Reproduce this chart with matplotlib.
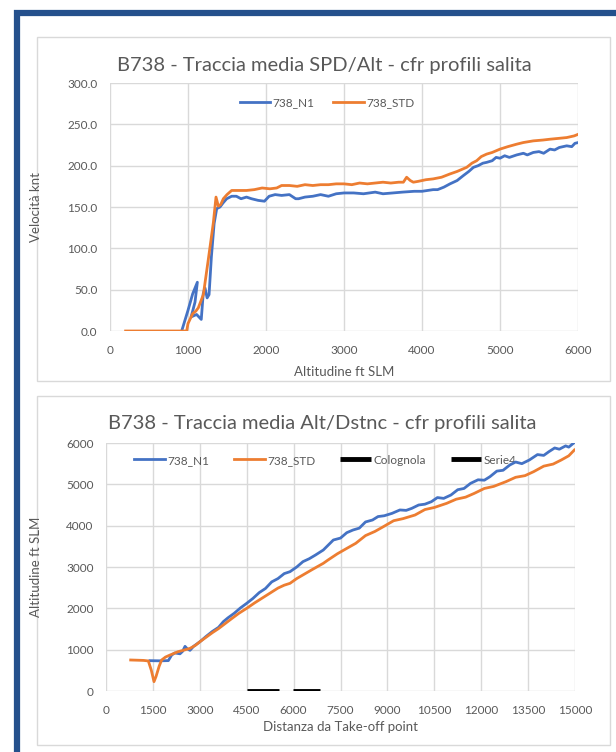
import matplotlib
matplotlib.use("Agg")
import matplotlib.pyplot as plt
from matplotlib.patches import Rectangle

plt.rcParams['font.family'] = ['Lato', 'DejaVu Sans']

# --- top chart: speed vs altitude ---
alt_n1 = [919, 1000, 1060, 1120, 1090, 1040, 1110, 1170, 1195, 1218, 1245, 1270, 1300, 1335, 1368,
          1410, 1450, 1496, 1560, 1620, 1680, 1750, 1814, 1900, 1980, 2040, 2117, 2200, 2300, 2380,
          2418, 2500, 2600, 2700, 2800, 2900, 3000, 3124, 3250, 3400, 3500, 3626, 3750, 3900, 4000,
          4143, 4200, 4280, 4359, 4450, 4530, 4600, 4660, 4720, 4780, 4829, 4900, 4950, 5000, 5060,
          5120, 5214, 5300, 5350, 5427, 5500, 5560, 5641, 5700, 5760, 5855, 5920, 5960, 6004]
spd_n1 = [0, 25, 45, 59, 35, 17, 20, 14, 45, 52, 40, 44, 90, 130, 148,
          150, 155, 160, 163, 163, 160, 162, 160, 158, 157, 163, 165, 164, 165, 160,
          160, 162, 163, 165, 163, 166, 167, 167, 166, 168, 166, 167, 168, 169, 169,
          171, 171, 174, 178, 182, 188, 193, 198, 200, 203, 204, 206, 210, 209, 212,
          210, 213, 215, 213, 216, 217, 215, 220, 219, 222, 224, 223, 227, 228]

alt_std = [200, 983, 1000, 1060, 1100, 1132, 1197, 1261, 1325, 1359, 1389, 1420, 1453, 1500, 1560,
           1650, 1750, 1850, 1950, 2050, 2137, 2200, 2300, 2400, 2500, 2600, 2700, 2800, 2900, 3000,
           3100, 3200, 3300, 3400, 3500, 3600, 3700, 3761, 3803, 3850, 3889, 3950, 4050, 4143, 4250,
           4359, 4450, 4573, 4640, 4701, 4760, 4829, 4900, 5000, 5100, 5214, 5300, 5427, 5550, 5641,
           5750, 5855, 5950, 6004]
spd_std = [0, 0, 9, 21, 24, 28, 44, 87, 131, 162, 151, 153, 160, 165, 170,
           170, 170, 171, 173, 172, 173, 176, 176, 175, 177, 176, 177, 177, 178, 178,
           177, 179, 178, 179, 180, 179, 180, 180, 186, 182, 180, 181, 183, 184, 186,
           190, 193, 198, 203, 206, 211, 214, 216, 220, 223, 226, 228, 230, 231, 232,
           233, 234, 236, 238]

# --- bottom chart: altitude vs distance ---
dist_n1 = [1407, 1700, 1994, 2100, 2200, 2367, 2450, 2527, 2600, 2686, 2800, 3006, 3200, 3400, 3600,
           3752, 3900, 4100, 4300, 4500, 4700, 4900, 5100, 5300, 5500, 5700, 5885, 6100, 6300, 6500,
           6700, 6950, 7271, 7500, 7700, 7900, 8100, 8300, 8524, 8700, 8900, 9148, 9400, 9600, 9780,
           10000, 10200, 10407, 10600, 10800, 11033, 11250, 11450, 11660, 11900, 12100, 12280, 12500,
           12700, 12915, 13100, 13300, 13540, 13800, 14000, 14165, 14350, 14500, 14700, 14800, 14947]
alt2_n1 = [734, 730, 735, 870, 920, 900, 960, 1080, 1020, 984, 1080, 1193, 1320, 1440, 1540,
           1677, 1770, 1880, 2010, 2121, 2240, 2380, 2480, 2640, 2720, 2840, 2887, 3000, 3130, 3200,
           3290, 3411, 3653, 3700, 3830, 3895, 3940, 4090, 4137, 4220, 4240, 4298, 4380, 4370, 4419,
           4500, 4520, 4580, 4680, 4660, 4742, 4870, 4900, 5024, 5110, 5100, 5185, 5320,
           5340, 5468, 5540, 5500, 5589, 5720, 5700, 5790, 5880, 5850, 5930, 5900, 5992]

dist_std = [789, 1000, 1200, 1354, 1450, 1535, 1600, 1700, 1780, 1900, 2047, 2300, 2500, 2686, 2850,
            3006, 3200, 3400, 3600, 3752, 4000, 4250, 4500, 4750, 5000, 5250, 5500, 5700, 5885, 6100,
            6350, 6600, 6950, 7100, 7400, 7700, 7988, 8300, 8600, 8872, 9200, 9500, 9884, 10200,
            10500, 10894, 11200, 11500, 11780, 12100, 12400, 12790, 13100, 13400, 13676, 14000,
            14300, 14561, 14800, 14980]
alt2_std = [750, 745, 740, 727, 500, 226, 350, 600, 750, 820, 870, 950, 990, 1032, 1100,
            1193, 1300, 1410, 1510, 1597, 1740, 1880, 2000, 2130, 2250, 2370, 2490, 2560, 2605, 2720,
            2830, 2940, 3089, 3169, 3320, 3450, 3573, 3760, 3860, 3976, 4120, 4170, 4258, 4390,
            4440, 4540, 4640, 4690, 4782, 4900, 4950, 5064, 5170, 5210, 5306, 5440,
            5490, 5589, 5690, 5831]

colognola_x = [4500, 5530]
colognola_y = [0, 0]
serie4_x = [5990, 6830]
serie4_y = [0, 0]

BLUE = '#4472C4'
ORANGE = '#ED7D31'
GRID = '#d9d9d9'
TXT = '#595959'

fig = plt.figure(figsize=(6.16, 7.52), dpi=100)
fig.patch.set_facecolor('white')

# outer navy frame (screenshot border)
fig.add_artist(Rectangle((17 / 616, -0.1), 1.2, (752 - 13) / 752 + 0.1, transform=fig.transFigure,
                         facecolor='none', edgecolor='#24508c', linewidth=4.5, zorder=-2))
# chart panels
fig.add_artist(Rectangle((37 / 616, 1 - 381 / 752), 573 / 616, 344 / 752, transform=fig.transFigure,
                         facecolor='white', edgecolor=GRID, linewidth=1, zorder=-1))
fig.add_artist(Rectangle((37 / 616, 1 - 745 / 752), 573 / 616, 349 / 752, transform=fig.transFigure,
                         facecolor='white', edgecolor=GRID, linewidth=1, zorder=-1))


def style(ax):
    ax.set_facecolor('none')
    for s in ax.spines.values():
        s.set_visible(False)
    ax.grid(True, color=GRID, linewidth=1)
    ax.set_axisbelow(True)
    ax.tick_params(length=0, labelsize=8.5, labelcolor=TXT)
    ax.tick_params(axis='x', pad=10)
    ax.tick_params(axis='y', pad=9)


ax1 = fig.add_axes([110 / 616, 1 - 331 / 752, 468 / 616, 248 / 752])
style(ax1)
ax1.plot(alt_n1, spd_n1, color=BLUE, lw=2, label='738_N1')
ax1.plot(alt_std, spd_std, color=ORANGE, lw=2, label='738_STD')
ax1.set_xlim(0, 6000)
ax1.set_ylim(0, 300)
ax1.set_xticks(range(0, 6001, 1000))
ax1.set_yticks(range(0, 301, 50))
ax1.set_yticklabels([f'{v:.1f}' for v in range(0, 301, 50)])
fig.text(324 / 616, 1 - 65 / 752, 'B738 - Traccia media SPD/Alt - cfr profili salita',
         fontsize=14.5, color=TXT, ha='center', va='center')
ax1.set_xlabel('Altitudine ft SLM', fontsize=9.5, color=TXT, labelpad=7)
ax1.set_ylabel('Velocità knt', fontsize=9.5, color=TXT)
ax1.yaxis.set_label_coords((42 - 110) / 468, 0.5)
ax1.legend(loc='center', bbox_to_anchor=(0.464, 0.919), ncol=2, frameon=False, fontsize=8.5,
           handlelength=2.6, handletextpad=0.2, columnspacing=1.6, labelcolor=TXT)

ax2 = fig.add_axes([106 / 616, 1 - 691 / 752, 469 / 616, 248 / 752])
style(ax2)
ax2.plot(dist_n1, alt2_n1, color=BLUE, lw=2, label='738_N1')
ax2.plot(dist_std, alt2_std, color=ORANGE, lw=2, label='738_STD')
ax2.plot(colognola_x, colognola_y, color='black', lw=3.5, label='Colognola', solid_capstyle='butt')
ax2.plot(serie4_x, serie4_y, color='black', lw=3.5, label='Serie4', solid_capstyle='butt')
ax2.set_xlim(0, 15000)
ax2.set_ylim(0, 6000)
ax2.set_xticks(range(0, 15001, 1500))
ax2.set_yticks(range(0, 6001, 1000))
fig.text(322 / 616, 1 - 424 / 752, 'B738 - Traccia media Alt/Dstnc - cfr profili salita',
         fontsize=14.5, color=TXT, ha='center', va='center')
ax2.set_xlabel('Distanza da Take-off point', fontsize=9.5, color=TXT, labelpad=4)
ax2.set_ylabel('Altitudine ft SLM', fontsize=9.5, color=TXT)
ax2.yaxis.set_label_coords((42 - 106) / 469, 0.5)
leg = ax2.legend(loc='center', bbox_to_anchor=(0.468, 0.931), ncol=4, frameon=False, fontsize=8.5,
                 handlelength=2.6, handletextpad=0.2, columnspacing=2.1, labelcolor=TXT)
leg.set_zorder(1)

fig.savefig('out.png', dpi=100)
